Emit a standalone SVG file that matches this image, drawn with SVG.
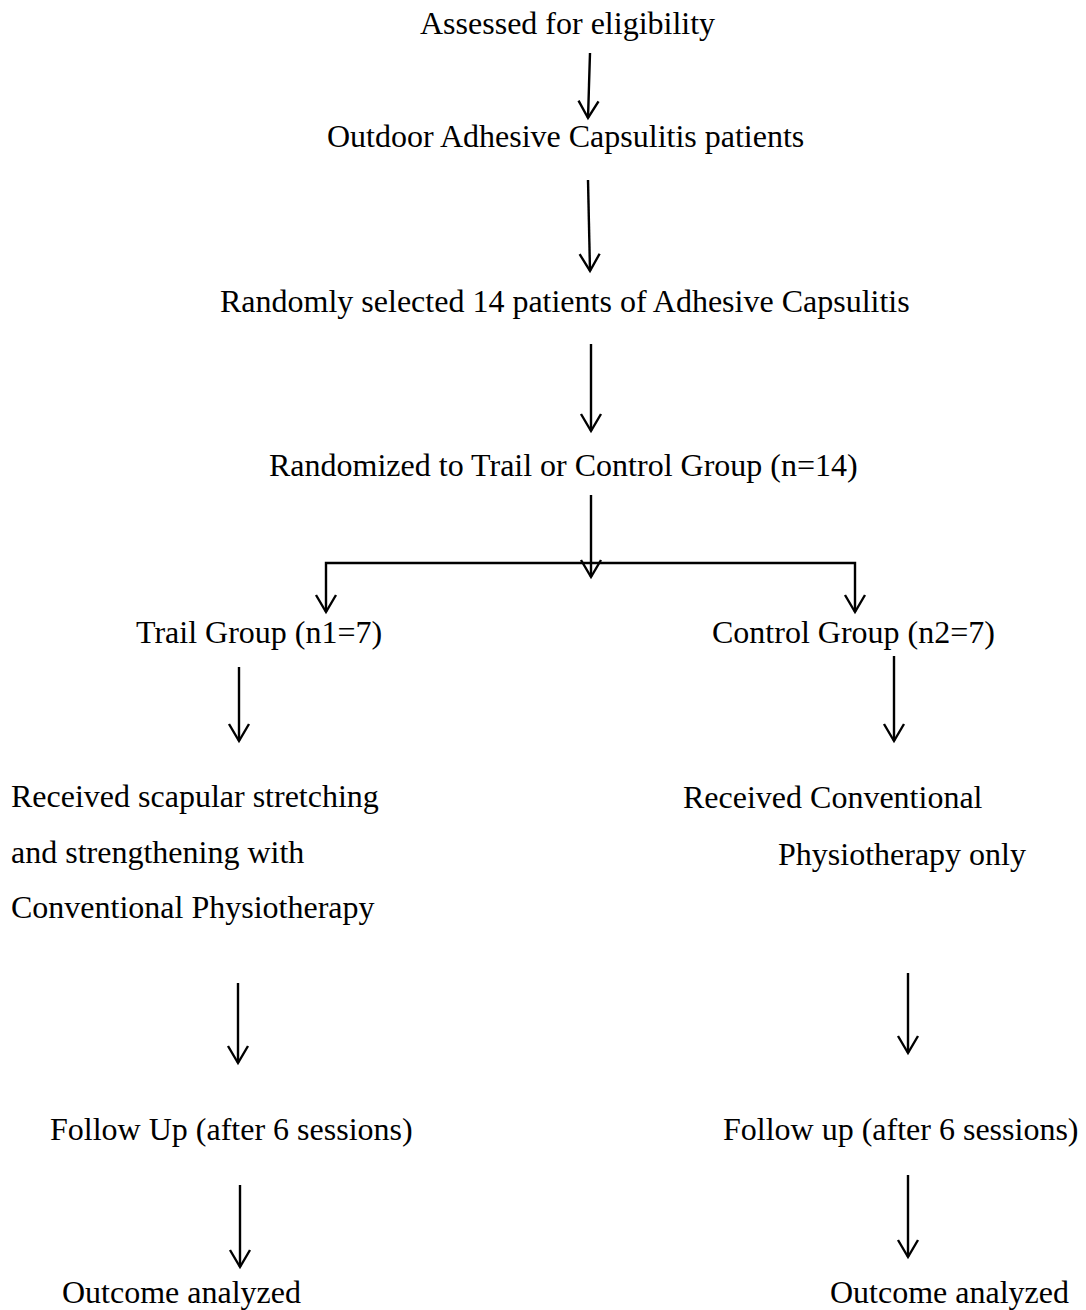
<svg xmlns="http://www.w3.org/2000/svg" width="1086" height="1310" viewBox="0 0 1086 1310">
<defs>
<style>
text{font-family:"Liberation Serif","Times New Roman",serif;font-size:32px;fill:#000}
.c line,.c path{stroke:#000;stroke-width:2.4;fill:none}
</style>
<marker id="ah" viewBox="-20 -12 22 24" markerWidth="22" markerHeight="24" refX="0" refY="0" orient="auto" markerUnits="userSpaceOnUse" overflow="visible">
<path d="M-17,-10 L0,0 L-17,10" stroke="#000" stroke-width="2.4" fill="none"/>
</marker>
</defs>
<rect width="1086" height="1310" fill="#fff"/>
<g id="n1"><text x="420" y="34">Assessed for eligibility</text></g>
<g id="n2"><text x="327" y="147">Outdoor Adhesive Capsulitis patients</text></g>
<g id="n3"><text x="220" y="312">Randomly selected 14 patients of Adhesive Capsulitis</text></g>
<g id="n4"><text x="269" y="476">Randomized to Trail or Control Group (n=14)</text></g>
<g id="n5"><text x="136" y="643">Trail Group (n1=7)</text></g>
<g id="n6"><text x="712" y="643">Control Group (n2=7)</text></g>
<g id="n7"><text x="11" y="807">Received scapular stretching</text><text x="11" y="863">and strengthening with</text><text x="11" y="918">Conventional Physiotherapy</text></g>
<g id="n8"><text x="683" y="808">Received Conventional</text><text x="778" y="865">Physiotherapy only</text></g>
<g id="n9"><text x="50" y="1140">Follow Up (after 6 sessions)</text></g>
<g id="n10"><text x="723" y="1140">Follow up (after 6 sessions)</text></g>
<g id="n11"><text x="62" y="1303">Outcome analyzed</text></g>
<g id="n12"><text x="830" y="1303">Outcome analyzed</text></g>
<g class="c" id="connectors">
<line x1="590" y1="53" x2="588" y2="118" marker-end="url(#ah)"/>
<line x1="588" y1="180" x2="590" y2="271" marker-end="url(#ah)"/>
<line x1="591" y1="344" x2="591" y2="431" marker-end="url(#ah)"/>
<line x1="591" y1="495" x2="591" y2="577" marker-end="url(#ah)"/>
<path d="M591,563 H326 V612" marker-end="url(#ah)"/>
<path d="M591,563 H855 V612" marker-end="url(#ah)"/>
<line x1="239" y1="667" x2="239" y2="741" marker-end="url(#ah)"/>
<line x1="894" y1="656" x2="894" y2="741" marker-end="url(#ah)"/>
<line x1="238" y1="983" x2="238" y2="1063" marker-end="url(#ah)"/>
<line x1="908" y1="973" x2="908" y2="1053" marker-end="url(#ah)"/>
<line x1="240" y1="1185" x2="240" y2="1267" marker-end="url(#ah)"/>
<line x1="908" y1="1175" x2="908" y2="1257" marker-end="url(#ah)"/>
</g>
</svg>
